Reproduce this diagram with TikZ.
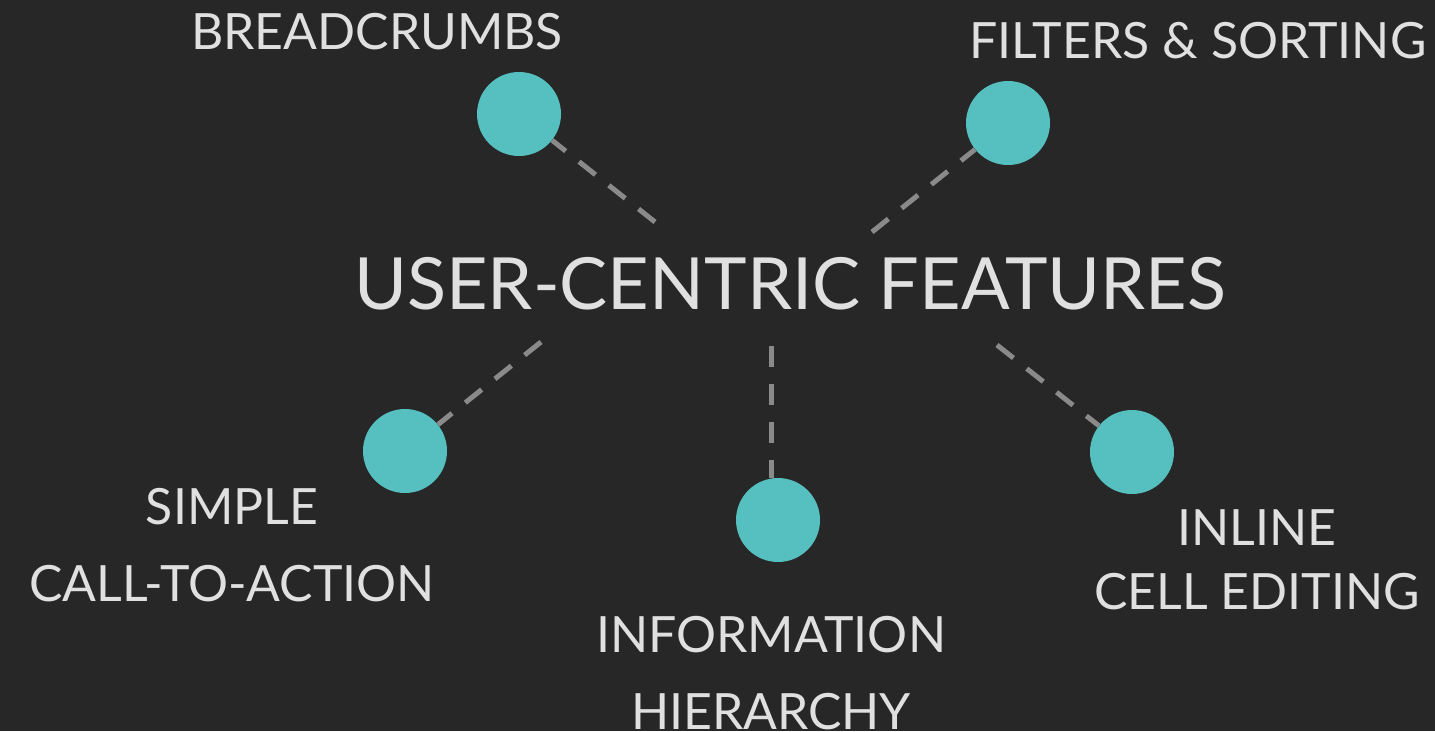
\documentclass[tikz,border=0pt]{standalone}
\usepackage{fontspec}
\setmainfont{Lato}
\definecolor{bg}{HTML}{272727}
\definecolor{teal}{HTML}{56BFBF}
\definecolor{dashc}{HTML}{8A8A8A}
\definecolor{txt}{HTML}{E0E0E0}
\begin{document}
\begin{tikzpicture}[x=1pt,y=-1pt,
  dot/.style={circle,fill=teal,minimum size=84pt,inner sep=0pt},
  conn/.style={draw=dashc,line width=5pt,dash pattern=on 21pt off 17pt},
  lbl/.style={text=txt,anchor=base,inner sep=0pt,font=\fontsize{50}{60}\selectfont},
  title/.style={text=txt,anchor=base,inner sep=0pt,font=\fontsize{72}{86}\selectfont}]
\fill[bg] (0,0) rectangle (1435,731);
\useasboundingbox (0,0) rectangle (1435,731);
\node[title] (t) at (790,309) {USER-CENTRIC FEATURES};
\coordinate (e1) at (655,222);
\coordinate (e2) at (872,232);
\coordinate (e3) at (771,346);
\coordinate (e4) at (541,342);
\coordinate (e5) at (997,345);
\node[dot] (b) at (519,114) {};
\node[dot] (f) at (1008,123) {};
\node[dot] (i) at (778,520) {};
\node[dot] (s) at (405,451) {};
\node[dot] (c) at (1132,452) {};
\draw[conn] (e1) -- (b);
\draw[conn] (e2) -- (f);
\draw[conn] (e3) -- (e3 |- i.north);
\draw[conn] (e4) -- (s);
\draw[conn] (e5) -- (c);
\node[lbl] (lb) at (377,49) {BREADCRUMBS};
\node[lbl] (lf) at (1198,58) {FILTERS \& SORTING};
\node[lbl] (ls1) at (232,524) {SIMPLE};
\node[lbl] (ls2) at (232,601) {CALL-TO-ACTION};
\node[lbl] (lc1) at (1257,545) {INLINE};
\node[lbl] (lc2) at (1257,609) {CELL EDITING};
\node[lbl] (li1) at (771,652) {INFORMATION};
\node[lbl] (li2) at (771,729) {HIERARCHY};
\end{tikzpicture}
\end{document}
